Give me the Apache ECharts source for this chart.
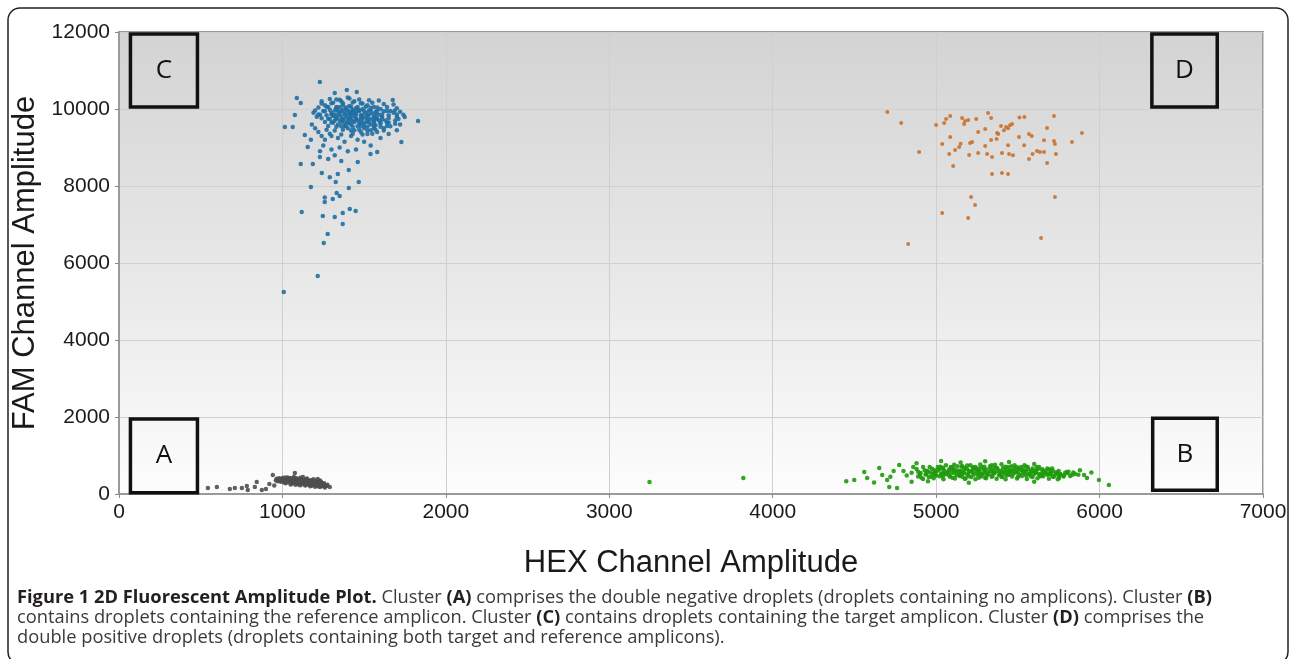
<!DOCTYPE html>
<html>
<head>
<meta charset="utf-8">
<script src="https://cdn.jsdelivr.net/npm/echarts@6/dist/echarts.min.js"></script>
<style>
  html, body { margin: 0; padding: 0; background: #fff; }
  #chart { width: 1290px; height: 659px; }
</style>
</head>
<body>
<div id="chart"></div>
<script>
// droplet amplitudes: [HEX, FAM]
const clusterA = [
  [960,360],[980,380],[1000,350],[1020,370],[1040,340],[1060,360],[1080,330],[1100,340],[1120,310],[1140,320],
  [1160,290],[1180,300],[1200,270],[1220,260],[1240,240],[1260,230],[970,330],[990,320],[1010,300],[1030,310],
  [1050,290],[1070,300],[1090,280],[1110,270],[1130,260],[1150,250],[1170,240],[1190,230],[1210,220],[1230,210],
  [1250,200],[980,410],[1000,400],[1020,420],[1040,400],[1060,410],[1080,390],[1100,380],[1120,370],[1140,360],
  [1160,350],[1180,340],[1200,320],[1220,310],[1240,290],[1050,250],[1080,240],[1110,230],[1140,220],[1170,200],
  [1200,190],[1230,180],[1260,170],[1030,430],[1070,440],[1110,420],[1150,400],[1190,380],[1230,350],[1000,380],
  [1040,370],[1080,360],[1120,340],[1160,320],[1200,300],[1240,270],[1060,320],[1100,310],[1140,290],[1180,270],
  [1220,240],[965,395],[985,360],[1005,420],[1015,340],[1025,390],[1035,355],[1045,415],[1055,335],[1065,385],
  [1075,350],[1085,410],[1095,320],[1105,360],[1115,395],[1125,330],[1135,345],[1145,380],[1155,305],[1165,335],
  [1175,360],[1185,285],[1195,315],[1205,345],[1215,280],[1225,300],[1235,320],[1245,255],[1255,280],[1265,210],
  [1275,240],[990,350],[1010,330],[1030,350],[1050,310],[1070,330],[1090,300],[1110,290],[1130,300],[1150,270],
  [1170,280],[1190,260],[1210,250],[1230,230],[1250,220],[1020,280],[1060,270],[1100,250],[1140,240],[1180,220],
  [1220,200],
  [544,156],[599,182],[678,130],[709,156],[752,156],[782,208],[788,104],[831,182],[843,312],
  [874,104],[899,130],[941,493],[1076,545],[1125,441],[1216,390],[1271,208],[920,260],[950,220],[1290,180]
];

const clusterB = [
  [4800,600],[4850,550],[4880,650],[4900,500],[4920,700],[4950,580],[4970,450],[4990,620],[5010,700],[5030,520],
  [5050,600],[5060,750],[5080,480],[5100,650],[5110,550],[5130,720],[5150,600],[5160,450],[5180,680],[5200,560],
  [5210,750],[5230,500],[5250,620],[5260,420],[5280,700],[5300,580],[5310,480],[5330,650],[5350,530],[5360,760],
  [5380,600],[5400,450],[5410,680],[5430,560],[5450,500],[5460,720],[5480,600],[5500,440],[5510,650],[5530,550],
  [5550,480],[5560,700],[5580,580],[5600,520],[5620,640],[5640,460],[5660,560],[5680,500],[5700,600],[5720,450],
  [5740,560],[5760,500],[5790,550],[5820,470],[5850,520],[4820,480],[4860,700],[4890,580],[4930,620],[4960,700],
  [4980,520],[5000,580],[5020,640],[5040,450],[5070,560],[5090,700],[5120,620],[5140,500],[5170,560],[5190,640],
  [5220,600],[5240,700],[5270,540],[5290,640],[5320,560],[5340,450],[5370,680],[5390,520],[5420,620],[5440,700],
  [5470,520],[5490,580],[5520,700],[5540,600],[5570,520],[5590,660],[5610,580],[5630,520],[5650,640],[5670,600],
  [5690,520],[5710,660],[5730,520],[5750,600],[5780,480],[5810,580],[5840,560],[5870,500],[4910,420],[4940,520],
  [5000,480],[5050,520],[5100,420],[5150,520],[5200,460],[5250,560],[5300,420],[5350,620],[5400,560],[5450,600],
  [5500,560],[5550,600],[5600,600],[5650,520],[5700,540],[5750,460],[5280,500],[5330,720],[5230,660],[5180,400],
  [5130,580],[5080,640],[5430,480],[5480,660],[5530,640],[5580,460],[5630,700],[5680,660],[5040,680],[4990,560],
  [5360,560],[5260,660],[5160,720],[5460,620],
  [4920,390],[4985,410],[5045,385],[5115,405],[5175,395],[5240,385],[5305,410],[5370,395],[5425,380],[5495,405],
  [5555,390],[5620,410],[5690,395],[5745,385],[4890,455],[4955,440],[5020,460],[5085,445],[5145,465],[5215,440],
  [5275,455],[5345,470],[5405,440],[5465,455],[5525,465],[5590,440],[5655,460],[5715,445],[5780,455],[4935,505],
  [4995,495],[5060,510],[5125,490],[5190,505],[5255,495],[5320,510],[5385,490],[5440,505],[5510,495],[5570,510],
  [5635,490],[5700,505],[5760,520],[4905,545],[4965,560],[5035,540],[5095,555],[5165,545],[5225,560],[5290,540],
  [5355,555],[5415,545],[5485,560],[5545,540],[5610,555],[5670,545],[5735,560],[5800,540],[4945,595],[5010,610],
  [5075,590],[5140,605],[5205,595],[5265,610],[5335,590],[5395,605],[5455,595],[5525,610],[5585,590],[5650,605],
  [5715,595],[4975,655],[5045,640],[5105,660],[5170,645],[5245,655],[5305,640],[5375,660],[5435,645],[5505,655],
  [5565,640],[5625,660],[5690,645],[5025,705],[5095,690],[5155,715],[5225,695],[5295,710],[5355,690],[5425,705],
  [5495,695],[5550,715],[5615,700],[5110,760],[5190,740],[5270,765],[5340,745],[5400,770],[5480,750],[5540,745],
  [5030,857],[5446,831],[4499,364],[4560,571],[4578,416],[4652,675],
  [4670,493],[4700,364],[4713,182],[4761,156],[4774,753],[6057,234],[5996,364],[5923,416],[5905,493],[5831,493],
  [5800,570],[5752,416],[3246,312],[3820,416],[4450,330],[4620,300],[4720,450],[4740,600],[4850,320],[4950,330],
  [5200,290],[5600,320],[5880,620],[5950,560],[4880,800],[5150,820],[5300,850],[5600,780]
];

const clusterC = [
  [1300,9900],[1320,9850],[1340,9950],[1360,9800],[1380,9900],[1400,9850],[1420,9750],[1440,9820],[1460,9700],[1480,9780],
  [1500,9650],[1520,9720],[1540,9600],[1560,9680],[1580,9750],[1600,9620],[1350,10050],[1370,10100],[1390,10000],[1410,10080],
  [1430,9980],[1450,10020],[1470,9950],[1490,10000],[1510,9900],[1530,9960],[1550,9880],[1570,9920],[1590,9850],[1610,9800],
  [1630,9700],[1650,9650],[1280,9750],[1300,9650],[1320,9700],[1340,9600],[1360,9550],[1380,9650],[1400,9500],[1420,9600],
  [1440,9450],[1460,9550],[1480,9400],[1500,9500],[1520,9350],[1540,9450],[1560,9500],[1580,9400],[1250,9950],[1230,9850],
  [1210,9800],[1190,9900],[1260,10100],[1280,10050],[1240,10200],[1300,10150],[1330,10250],[1360,10200],[1400,10300],[1440,10200],
  [1480,10150],[1520,10100],[1560,10050],[1600,10000],[1640,9950],[1680,9900],[1700,9800],[1690,9700],[1660,9550],[1620,9500],
  [1180,9600],[1200,9500],[1220,9400],[1240,9300],[1260,9200],[1300,9300],[1340,9250],[1380,9150],[1420,9300],[1460,9200],
  [1500,9150],[1540,9050],[1600,9250],[1650,9350],[1700,9450],[1720,9600],[1310,9820],[1330,9760],[1350,9880],[1370,9720],
  [1390,9780],[1410,9920],[1430,9680],[1450,9880],[1470,9620],[1490,9840],[1510,9780],[1530,9660],[1550,9740],[1570,9580],
  [1590,9700],[1410,9640],[1390,9560],[1450,9760],[1370,9980],[1330,10020],[1290,9980],[1350,9700],[1440,9920],[1460,9980],
  [1500,9580],[1520,9840],[1560,9800],[1480,9700],[1420,9880],[1400,9700],[1250,9050],[1300,8950],[1350,9000],[1400,8900],
  [1450,8950],[1320,8800],[1280,8700],[1360,8650],[1230,8900],
  [1290,10260],[1350,10240],[1410,10270],[1470,10250],[1530,10230],[1590,10220],[1240,10140],[1310,10160],[1370,10150],[1430,10170],
  [1490,10140],[1550,10160],[1620,10130],[1680,10120],[1220,10040],[1270,10060],[1330,10050],[1390,10040],[1420,10060],[1460,10050],
  [1510,10060],[1540,10030],[1580,10040],[1640,10050],[1700,10020],[1200,9960],[1260,9940],[1320,9960],[1360,9940],[1400,9960],
  [1430,9940],[1470,9960],[1500,9940],[1540,9960],[1580,9950],[1620,9940],[1660,9950],[1720,9930],[1220,9860],[1270,9840],
  [1300,9860],[1340,9840],[1380,9860],[1420,9840],[1450,9860],[1480,9840],[1530,9860],[1570,9840],[1610,9860],[1650,9840],
  [1700,9860],[1740,9850],[1240,9760],[1290,9740],[1330,9760],[1370,9740],[1410,9760],[1450,9740],[1490,9760],[1530,9740],
  [1570,9760],[1610,9740],[1650,9760],[1710,9740],[1260,9660],[1310,9640],[1360,9660],[1400,9640],[1440,9660],[1480,9640],
  [1520,9660],[1560,9640],[1600,9660],[1640,9640],[1690,9620],[1280,9560],[1330,9540],[1380,9560],[1430,9540],[1480,9560],
  [1520,9540],[1560,9560],[1600,9540],[1640,9560],[1270,9460],[1320,9440],[1370,9460],[1420,9440],[1470,9460],[1520,9440],
  [1570,9460],[1620,9440],[1290,9360],[1360,9340],[1430,9360],[1490,9340],[1550,9360],
  [1229,10700],[1015,9531],[1063,9531],[1830,9687],[1748,9790],[1728,9141],[1112,8570],[1186,8570],[1174,7973],[1118,7324],
  [1247,7220],[1320,7194],[1369,7012],[1277,6752],[1253,6518],[1216,5661],[1008,5246],[1412,7401],[1448,7350],[1369,7298],
  [1467,8103],[1406,7947],[1326,8103],[1332,7817],[1259,7583],[1259,7700],[1308,7661],[1350,7740],[1339,8310],[1241,8336],
  [1290,8230],[1406,8414],[1461,8622],[1539,8830],[1580,8880],[1229,8752],[1155,9011],[1137,9323],[1174,9200],[1088,10284],
  [1112,10154],[1076,9843],[1675,10232],[1687,9960],[1394,10492],[1455,10440],[1320,10414]
];

const clusterD = [
  [4701,9921],[4786,9635],[4896,8882],[4829,6493],[5000,9583],[5049,9635],[5061,9739],[5086,9817],[5037,9090],[5086,9271],
  [5080,8830],[5104,8518],[5116,8934],[5141,9011],[5150,9100],[5159,9765],[5171,9609],[5177,9690],[5196,9713],[5208,9115],
  [5202,8804],[5220,9140],[5245,9739],[5257,9401],[5257,8856],[5300,9037],[5300,9480],[5312,8830],[5318,9895],[5336,9765],
  [5336,9193],[5342,8752],[5342,8310],[5370,9220],[5373,9375],[5380,9350],[5397,9557],[5403,8856],[5403,8336],[5415,9450],
  [5428,9530],[5440,9500],[5440,8310],[5440,9060],[5446,8830],[5452,9580],[5465,9610],[5470,8800],[5214,7713],[5238,7505],
  [5196,7167],[5037,7298],[5642,6648],[5727,7713],[5507,9271],[5510,9780],[5540,9790],[5538,9060],[5568,9350],[5585,9300],
  [5568,8700],[5590,8830],[5617,8908],[5635,8880],[5660,8880],[5679,9505],[5679,8600],[5660,9190],[5721,9817],[5721,9170],
  [5727,9090],[5733,8830],[5831,9141],[5892,9375]
];

// quadrant label boxes, in axis units
const boxNames = ['A', 'B', 'C', 'D'];
const boxRanges = [
  [[70, 30], [480, 1950]],
  [[6325, 100], [6720, 1970]],
  [[70, 10050], [480, 11950]],
  [[6320, 10050], [6720, 11950]]
];

const xTicks = { min: 0, max: 7000, interval: 1000 };
const yTicks = { min: 0, max: 12000, interval: 2000 };

const captionLines = [
  [['b', 'Figure 1 2D Fluorescent Amplitude Plot.'], ['n', ' Cluster '], ['b', '(A)'], ['n', ' comprises the double negative droplets (droplets containing no amplicons). Cluster '], ['b', '(B)']],
  [['n', 'contains droplets containing the reference amplicon. Cluster '], ['b', '(C)'], ['n', ' contains droplets containing the target amplicon. Cluster '], ['b', '(D)'], ['n', ' comprises the']],
  [['n', 'double positive droplets (droplets containing both target and reference amplicons).']]
];

const chart = echarts.init(document.getElementById('chart'));

const axisFont = "'Liberation Sans', Arial, sans-serif";
const captionFont = "'Open Sans', sans-serif";

const captionGraphics = captionLines.map(function (parts, i) {
  return {
    type: 'text',
    left: 17,
    top: 589 + i * 20,
    style: {
      text: parts.map(function (p) { return '{' + p[0] + '|' + p[1] + '}'; }).join(''),
      rich: {
        b: { fontFamily: captionFont, fontSize: 18.3, fontWeight: 'bold', fill: '#231f20' },
        n: { fontFamily: captionFont, fontSize: 18.3, fill: '#3a3a3a' }
      }
    }
  };
});

const dotSeries = function (name, data, color, size) {
  return {
    name: name,
    type: 'scatter',
    data: data,
    symbol: 'circle',
    symbolSize: size,
    itemStyle: { color: color, opacity: 0.9 },
    silent: true
  };
};

const plainNumber = function (v) { return String(v); };

const option = {
  animation: false,
  backgroundColor: '#fff',
  grid: {
    left: 119,
    right: 27,
    top: 32,
    bottom: 165,
    show: true,
    borderColor: '#9a9a9a',
    borderWidth: 2,
    backgroundColor: new echarts.graphic.LinearGradient(0, 0, 0, 1, [
      { offset: 0, color: '#d3d3d3' },
      { offset: 0.55, color: '#e9e9e9' },
      { offset: 1, color: '#fdfdfd' }
    ])
  },
  xAxis: {
    type: 'value',
    min: xTicks.min,
    max: xTicks.max,
    interval: xTicks.interval,
    name: 'HEX Channel Amplitude',
    nameLocation: 'middle',
    nameGap: 54,
    nameTextStyle: { fontFamily: axisFont, fontSize: 31, color: '#1a1a1a' },
    axisLine: { show: true, lineStyle: { color: '#9a9a9a', width: 2 } },
    axisTick: { show: true, length: 4, lineStyle: { color: '#888' } },
    axisLabel: { fontFamily: axisFont, fontSize: 21, color: '#1a1a1a', margin: 8, formatter: plainNumber },
    splitLine: { show: true, lineStyle: { color: '#cfcfcf', width: 1 } }
  },
  yAxis: {
    type: 'value',
    min: yTicks.min,
    max: yTicks.max,
    interval: yTicks.interval,
    name: 'FAM Channel Amplitude',
    nameLocation: 'middle',
    nameGap: 64,
    nameTextStyle: { fontFamily: axisFont, fontSize: 31, color: '#1a1a1a' },
    axisLine: { show: true, lineStyle: { color: '#9a9a9a', width: 2 } },
    axisTick: { show: true, length: 4, lineStyle: { color: '#888' } },
    axisLabel: { fontFamily: axisFont, fontSize: 21, color: '#1a1a1a', margin: 9, formatter: plainNumber },
    splitLine: { show: true, lineStyle: { color: '#cfcfcf', width: 1 } }
  },
  graphic: [
    {
      type: 'rect',
      shape: { x: 8, y: 8, width: 1280, height: 656, r: 12 },
      style: { fill: 'none', stroke: '#222', lineWidth: 1.5 },
      z: 100
    }
  ].concat(captionGraphics),
  series: [
    dotSeries('A', clusterA, '#4f4f4f', 4.5),
    dotSeries('B', clusterB, '#1f9a0c', 4.5),
    dotSeries('C', clusterC, '#1f6fa3', 4.5),
    dotSeries('D', clusterD, '#c9712c', 4),
    {
      name: 'boxes',
      type: 'scatter',
      data: [],
      markArea: {
        silent: true,
        itemStyle: { color: 'rgba(0,0,0,0)', borderColor: '#111', borderWidth: 3.5 },
        label: {
          show: true,
          position: 'inside',
          fontFamily: captionFont,
          fontSize: 26,
          color: '#111'
        },
        data: boxRanges.map(function (r, i) {
          return [
            { name: boxNames[i], coord: r[0] },
            { coord: r[1] }
          ];
        })
      }
    }
  ]
};

chart.setOption(option);
</script>
</body>
</html>
